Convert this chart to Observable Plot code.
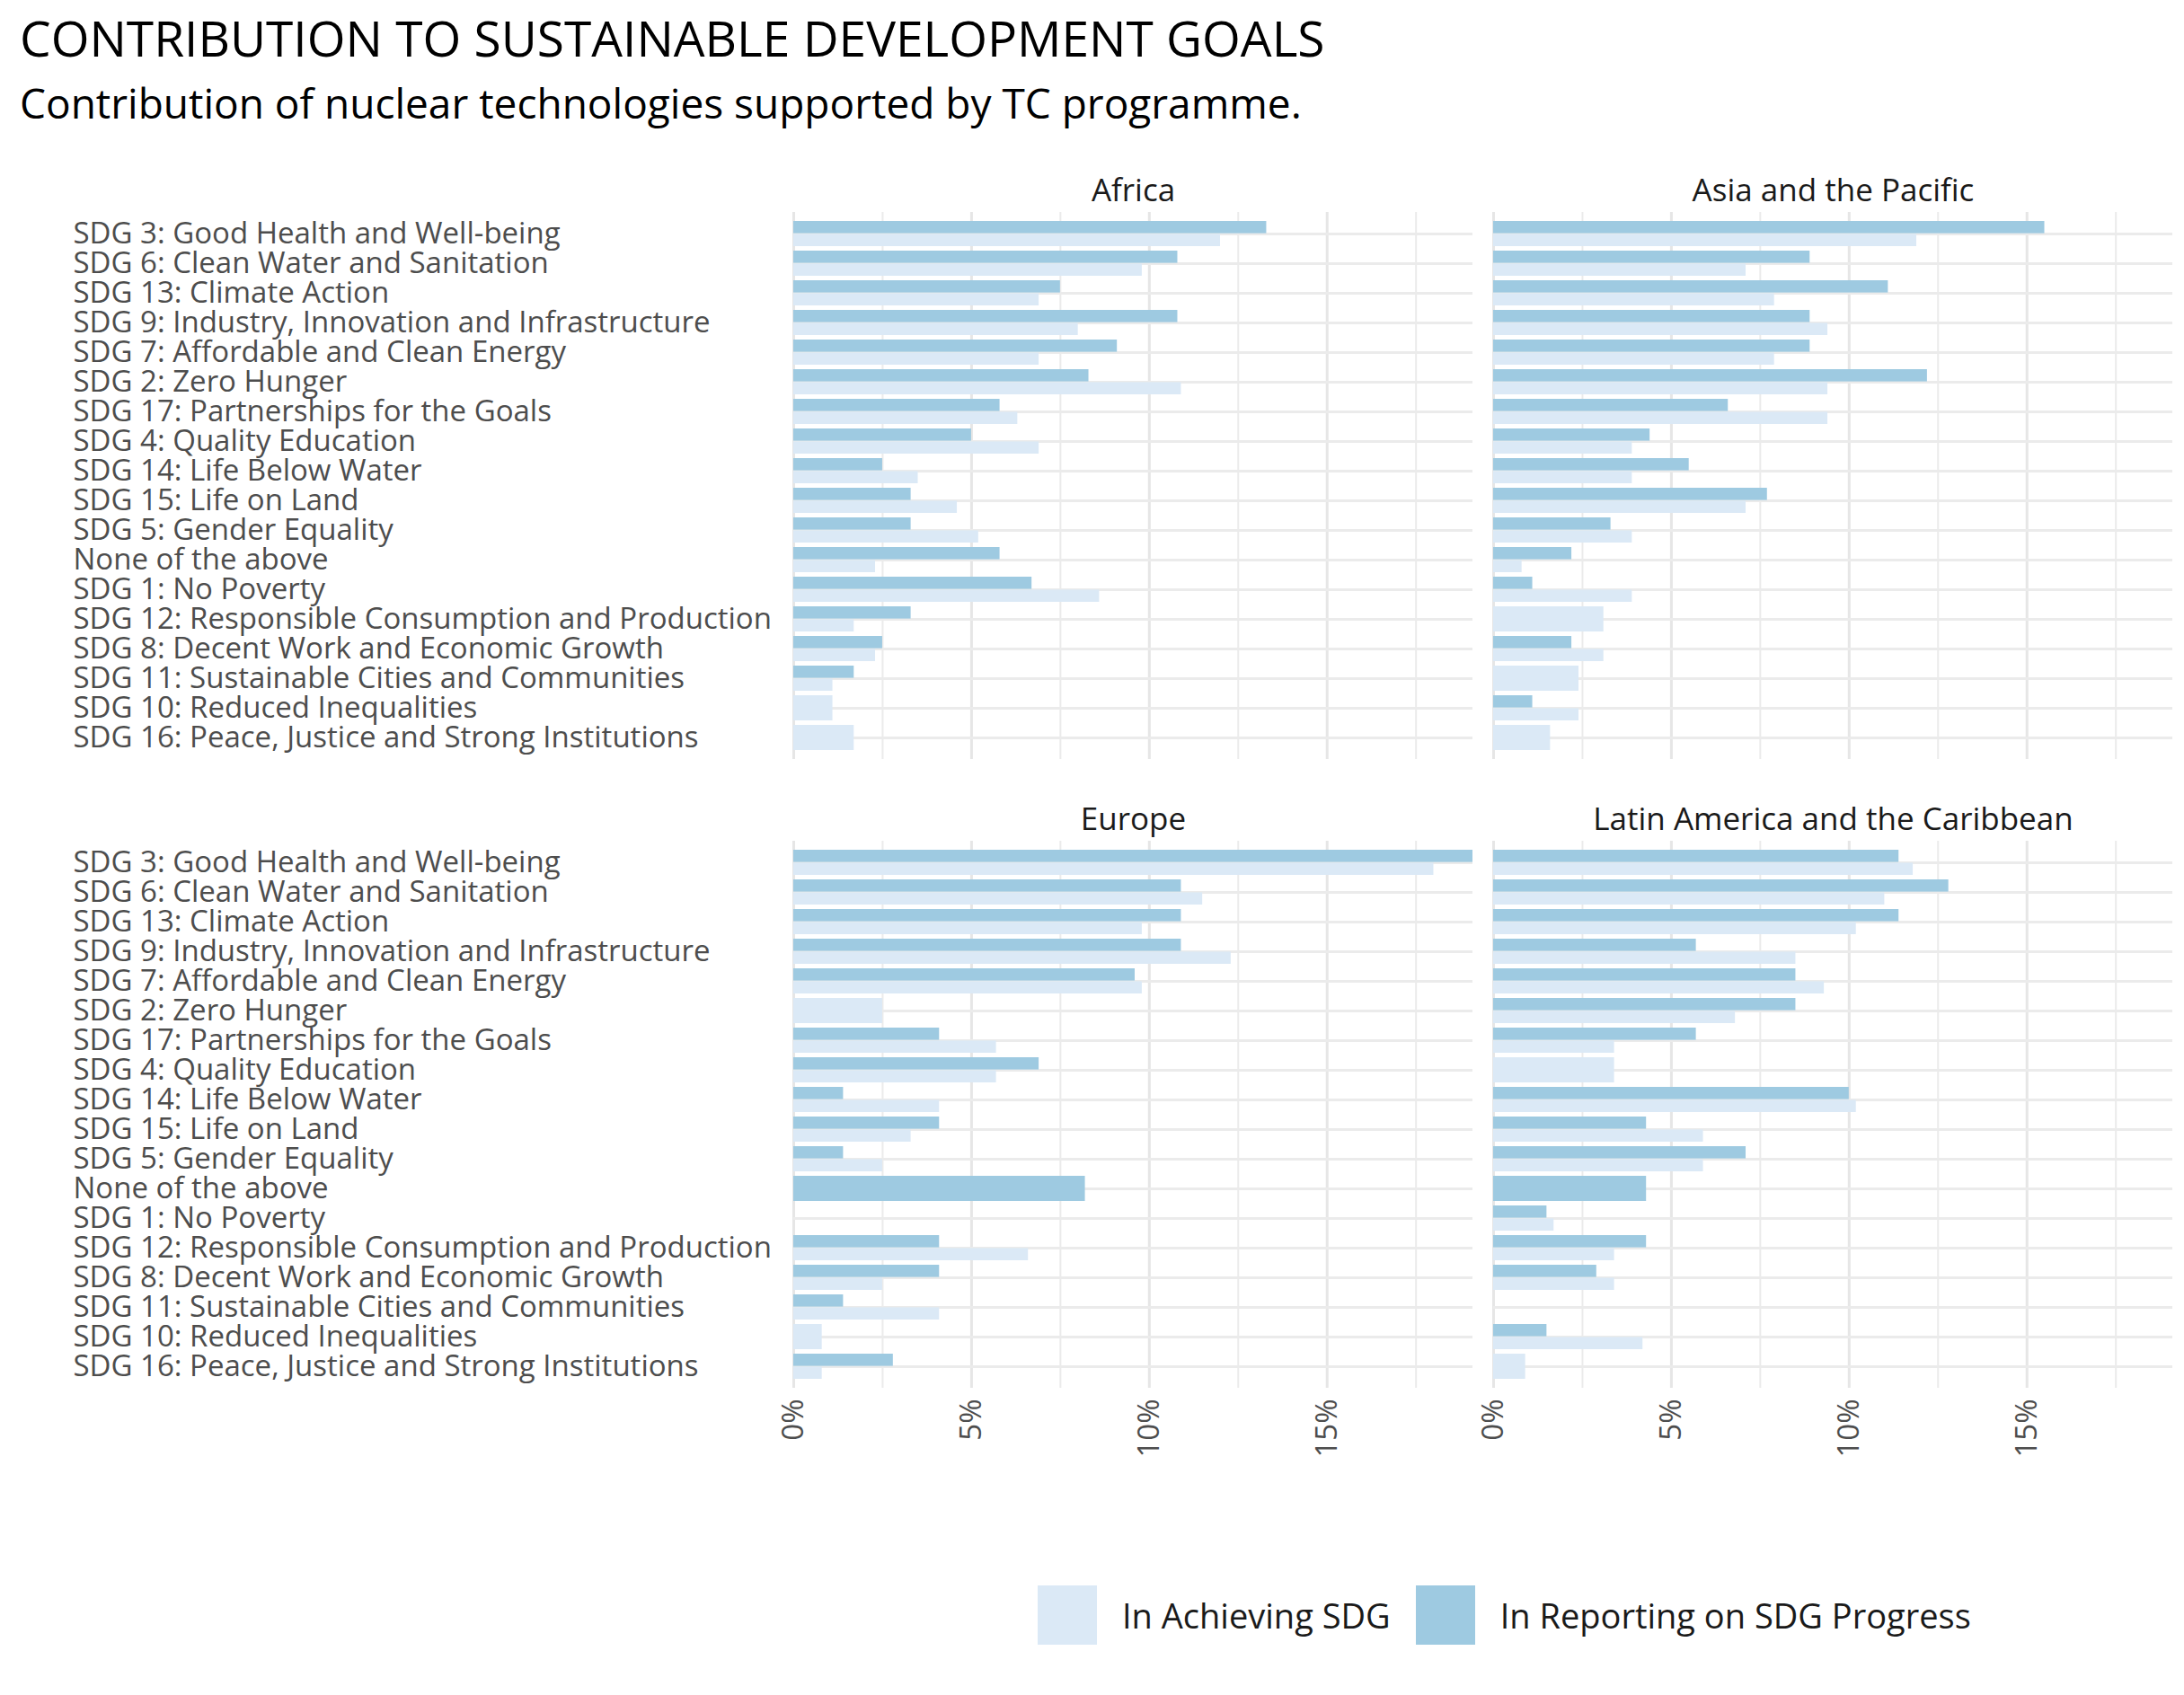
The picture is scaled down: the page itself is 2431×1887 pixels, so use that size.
<!DOCTYPE html>
<html lang="en">
<head>
<meta charset="UTF-8">
<title>Contribution to SDGs</title>
<script src="https://cdn.jsdelivr.net/npm/d3@7"></script>
<script src="https://cdn.jsdelivr.net/npm/@observablehq/plot@0.6"></script>
<style>
  body { margin: 0; background: #fff; font-family: "Open Sans", sans-serif; }
  h1 { font-weight: 400; font-size: 55px; margin: 4px 0 0 22px; color: #000; }
  h2 { font-weight: 400; font-size: 46px; margin: 4px 0 0 22px; color: #000; }
  #chart { margin-top: 0; }
  .legend { display: flex; align-items: center; margin: 110px 0 0 1155px; font-size: 38px; color: #1a1a1a; }
  .legend span.sw { display: inline-block; width: 66px; height: 66px; margin-right: 28px; }
  .legend span.lab { margin-right: 28px; }
</style>
</head>
<body>
<h1>CONTRIBUTION TO SUSTAINABLE DEVELOPMENT GOALS</h1>
<h2>Contribution of nuclear technologies supported by TC programme.</h2>
<div id="chart"></div>
<div class="legend">
  <span class="sw" style="background:#dbe9f6"></span><span class="lab">In Achieving SDG</span>
  <span class="sw" style="background:#9ecae1"></span><span class="lab">In Reporting on SDG Progress</span>
</div>
<script>
// categories, top to bottom
const sdgs = [
  "SDG 3: Good Health and Well-being",
  "SDG 6: Clean Water and Sanitation",
  "SDG 13: Climate Action",
  "SDG 9: Industry, Innovation and Infrastructure",
  "SDG 7: Affordable and Clean Energy",
  "SDG 2: Zero Hunger",
  "SDG 17: Partnerships for the Goals",
  "SDG 4: Quality Education",
  "SDG 14: Life Below Water",
  "SDG 15: Life on Land",
  "SDG 5: Gender Equality",
  "None of the above",
  "SDG 1: No Poverty",
  "SDG 12: Responsible Consumption and Production",
  "SDG 8: Decent Work and Economic Growth",
  "SDG 11: Sustainable Cities and Communities",
  "SDG 10: Reduced Inequalities",
  "SDG 16: Peace, Justice and Strong Institutions"
];
const regions = ["Africa", "Asia and the Pacific", "Europe", "Latin America and the Caribbean"];

// percentages, in the order of sdgs
const africaReporting   = [13.3, 10.8, 7.5, 10.8, 9.1, 8.3, 5.8, 5.0, 2.5, 3.3, 3.3, 5.8, 6.7, 3.3, 2.5, 1.7, 0, 0];
const africaAchieving   = [12.0, 9.8, 6.9, 8.0, 6.9, 10.9, 6.3, 6.9, 3.5, 4.6, 5.2, 2.3, 8.6, 1.7, 2.3, 1.1, 1.1, 1.7];
const asiaReporting     = [15.5, 8.9, 11.1, 8.9, 8.9, 12.2, 6.6, 4.4, 5.5, 7.7, 3.3, 2.2, 1.1, 0, 2.2, 0, 1.1, 0];
const asiaAchieving     = [11.9, 7.1, 7.9, 9.4, 7.9, 9.4, 9.4, 3.9, 3.9, 7.1, 3.9, 0.8, 3.9, 3.1, 3.1, 2.4, 2.4, 1.6];
const europeReporting   = [19.1, 10.9, 10.9, 10.9, 9.6, 0, 4.1, 6.9, 1.4, 4.1, 1.4, 8.2, 0, 4.1, 4.1, 1.4, 0, 2.8];
const europeAchieving   = [18.0, 11.5, 9.8, 12.3, 9.8, 2.5, 5.7, 5.7, 4.1, 3.3, 2.5, 0, 0, 6.6, 2.5, 4.1, 0.8, 0.8];
const latamReporting    = [11.4, 12.8, 11.4, 5.7, 8.5, 8.5, 5.7, 0, 10.0, 4.3, 7.1, 4.3, 1.5, 4.3, 2.9, 0, 1.5, 0];
const latamAchieving    = [11.8, 11.0, 10.2, 8.5, 9.3, 6.8, 3.4, 3.4, 10.2, 5.9, 5.9, 0, 1.7, 3.4, 3.4, 0, 4.2, 0.9];

const reporting = [africaReporting, asiaReporting, europeReporting, latamReporting];
const achieving = [africaAchieving, asiaAchieving, europeAchieving, latamAchieving];

const rows = [];
regions.forEach((r, ri) => {
  sdgs.forEach((s, si) => {
    const rep = reporting[ri][si], ach = achieving[ri][si];
    const solo = rep === 0 || ach === 0;
    const base = {region: r, col: ri % 2, row: Math.floor(ri / 2), sdg: s, solo};
    if (rep > 0) rows.push({...base, series: "rep", value: rep});
    if (ach > 0) rows.push({...base, series: "ach", value: ach});
  });
});
const titles = regions.map((r, ri) => ({region: r, col: ri % 2, row: Math.floor(ri / 2)}));
const half = 14.4;
const fx = "col", fy = "row";

const plot = Plot.plot({
  width: 2431,
  height: 1510,
  marginLeft: 882,
  marginRight: 13,
  marginTop: 91,
  marginBottom: 110,
  style: {fontFamily: "Open Sans", fontSize: "33px", color: "#4d4d4d"},
  fx: {axis: null, padding: 0.03},
  fy: {axis: null, padding: 0.13},
  x: {domain: [0, 19.1]},
  y: {domain: sdgs, padding: 0.15},
  marks: [
    Plot.gridX({ticks: [2.5, 7.5, 12.5, 17.5], stroke: "#ebebeb", strokeOpacity: 1, strokeWidth: 2}),
    Plot.gridX({ticks: [0, 5, 10, 15], stroke: "#e6e6e6", strokeOpacity: 1, strokeWidth: 3}),
    Plot.gridY({stroke: "#ebebeb", strokeOpacity: 1, strokeWidth: 3}),
    Plot.barX(rows.filter(d => d.series === "rep" && !d.solo), {x: "value", y: "sdg", fx, fy, fill: "#9ecae1", insetBottom: half, insetTop: 0}),
    Plot.barX(rows.filter(d => d.series === "ach" && !d.solo), {x: "value", y: "sdg", fx, fy, fill: "#dbe9f6", insetTop: half, insetBottom: 0}),
    Plot.barX(rows.filter(d => d.solo), {x: "value", y: "sdg", fx, fy, fill: d => d.series === "rep" ? "#9ecae1" : "#dbe9f6", insetTop: 0, insetBottom: 0}),
    Plot.axisY({tickSize: 0, tickPadding: 0, textAnchor: "start", dx: -802, fill: "#4d4d4d", label: null}),
    Plot.axisX({ticks: [0, 5, 10, 15], tickFormat: d => d + "%", tickRotate: -90, tickSize: 0, tickPadding: 12, fill: "#4d4d4d", label: null}),
    Plot.text(titles, {fx, fy, text: "region", frameAnchor: "top", dy: -37, fontSize: 35, fill: "#1a1a1a"})
  ]
});
document.querySelector("#chart").append(plot);
</script>
</body>
</html>
